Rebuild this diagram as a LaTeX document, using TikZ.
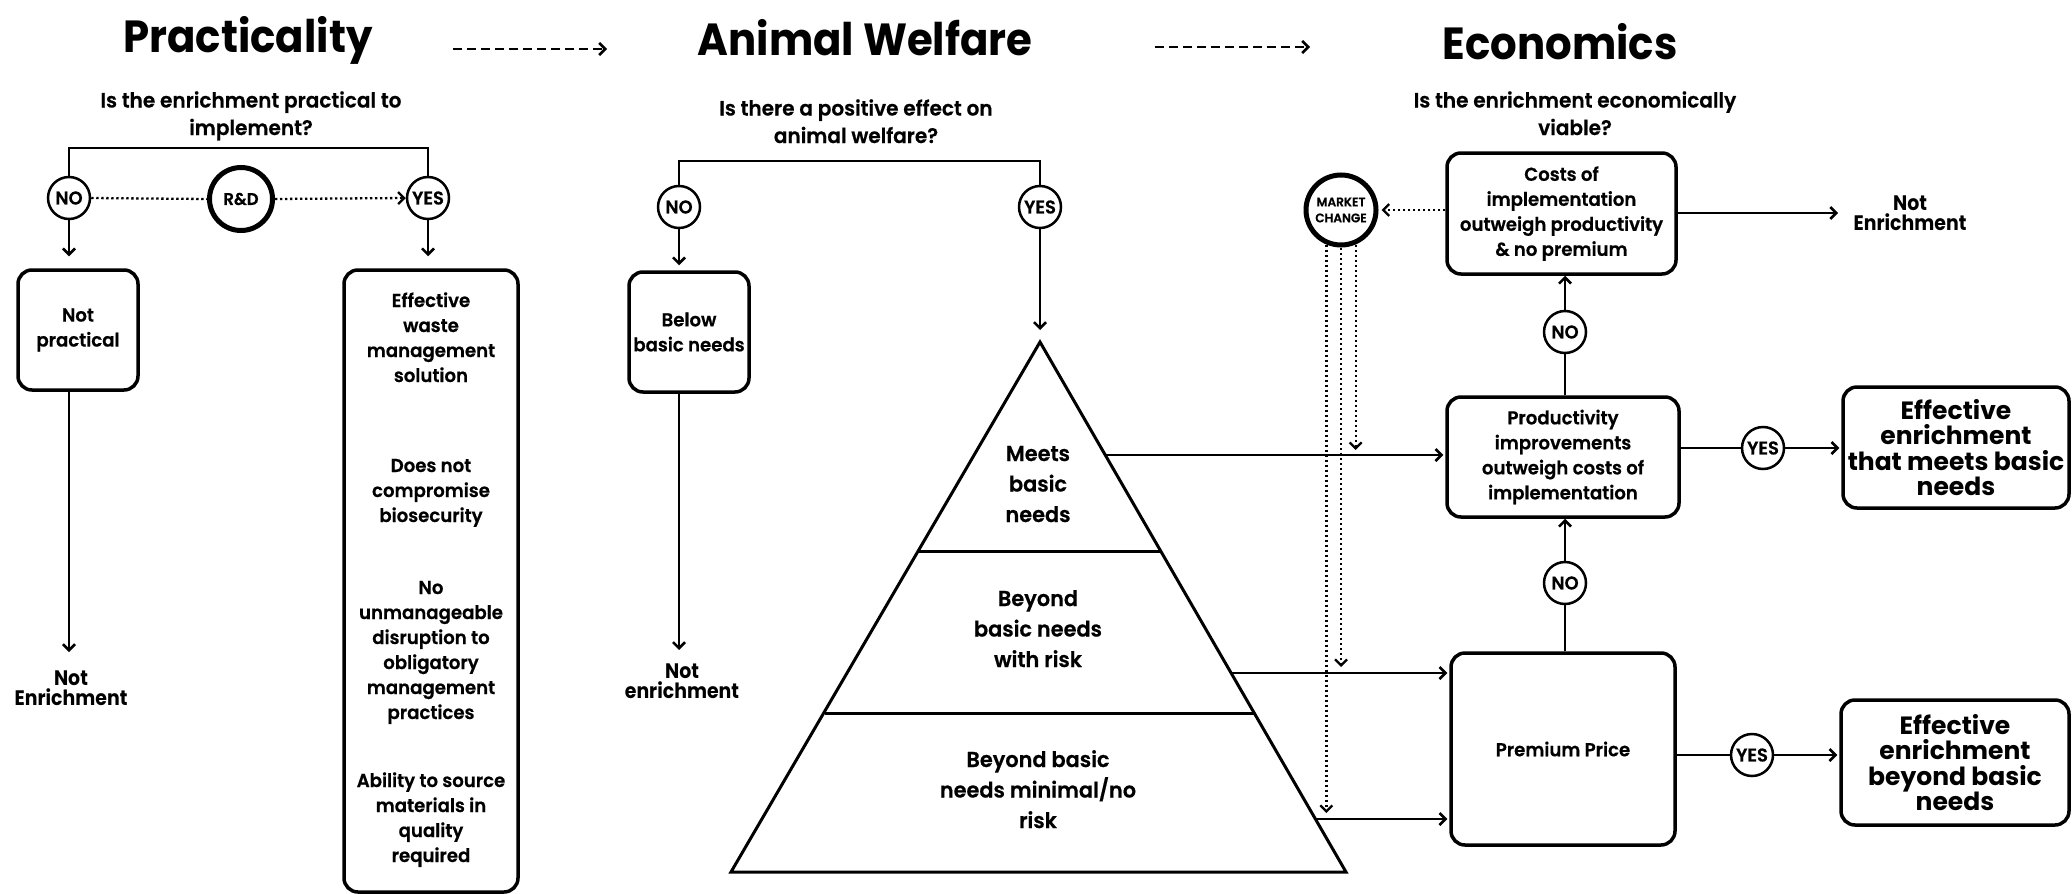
\documentclass[tikz,border=0pt]{standalone}
\usepackage{fontspec}
\setmainfont{Poppins}
\newfontfamily\bodyf{Poppins SemiBold}[FakeBold=0.6,FakeStretch=0.97]
\newfontfamily\heavyf{Poppins Bold}
\newfontfamily\heavyn{Poppins Bold}[FakeStretch=0.9]
\newfontfamily\titlef{Poppins Bold}[FakeStretch=0.93]
\usetikzlibrary{arrows.meta}
\begin{document}
\begin{tikzpicture}[x=1pt,y=-1pt,
  >={Straight Barb[length=6pt,width=12pt]},
  ln/.style={line width=2.5pt},
  arr/.style={line width=2.5pt,->},
  dots/.style={line width=2.3pt,dash pattern=on 2.3pt off 2.7pt},
  dotarr/.style={dots,->},
  dasharr/.style={line width=2.5pt,dash pattern=on 9pt off 5pt,->},
  rbox/.style={draw,line width=3.5pt,rounded corners=14pt,inner sep=0pt,align=center,font=\bodyf\fontsize{18.7}{25}\selectfont},
  effbox/.style={rbox,font=\heavyf\fontsize{25}{25.5}\selectfont},
  yn/.style={draw,circle,line width=2.5pt,minimum size=42pt,inner sep=0pt,font=\bodyf\fontsize{18.5}{18.5}\selectfont},
  bigc/.style={draw,circle,line width=5pt,inner sep=0pt,align=center},
  ttl/.style={inner sep=0pt,anchor=base,font=\titlef\fontsize{45}{45}\selectfont},
  qtext/.style={inner sep=0pt,anchor=base,align=center,font=\bodyf\fontsize{20.7}{27.5}\selectfont},
  bodytxt/.style={inner sep=0pt,anchor=base,align=center,font=\bodyf\fontsize{18.7}{25}\selectfont},
  pyr/.style={inner sep=0pt,anchor=base,align=center,font=\bodyf\fontsize{21.5}{30.5}\selectfont},
  notE/.style={inner sep=0pt,anchor=base,align=center,font=\heavyn\fontsize{21}{20}\selectfont},
  pyrline/.style={line width=3pt}
]
\useasboundingbox (0,0) rectangle (2072,894);

% titles
\node[ttl] (tP) at (248,52) {Practicality};
\node[ttl] (tA) at (865,55) {Animal Welfare};
\node[ttl] (tE) at (1560,59) {Economics};
\coordinate (d1s) at (453,49); \coordinate (d1e) at (607,49);
\coordinate (d2s) at (1155,47); \coordinate (d2e) at (1310,47);
\draw[dasharr] (d1s) -- (d1e);
\draw[dasharr] (d2s) -- (d2e);

% questions (anchor = baseline of the last line)
\node[qtext] (qP) at (251,135) {Is the enrichment practical to\\implement?};
\node[qtext] (qA) at (856,143) {Is there a positive effect on\\animal welfare?};
\node[qtext] (qE) at (1575,135) {Is the enrichment economically\\viable?};

% ---------- left: practicality
\node[yn] (noP) at (69,198) {NO};
\node[yn] (yesP) at (428,198) {YES};
\node[bigc,minimum size=63pt,font=\bodyf\fontsize{17}{17}\selectfont] (rd) at (241,199) {R\&D};
\coordinate (brP) at (248,148);
\draw[ln] (noP.north) |- (brP) -| (yesP.north);
\draw[dots] (noP.east) -- (rd.west);
\draw[dotarr] (rd.east) -- (yesP.west);

\node[rbox,minimum width=120pt,minimum height=120pt] (np) at (78,330) {Not\\practical};
\draw[arr,shorten >=12pt] (noP.south) -- (noP.south |- np.north);
\node[notE] (neP) at (71,705) {Not\\Enrichment};
\coordinate (nePin) at (69,652);
\draw[arr] (noP.south |- np.south) -- (nePin);

\node[rbox,minimum width=174pt,minimum height=622pt] (yb) at (431,581) {};
\draw[arr,shorten >=12pt] (yesP.south) -- (yesP.south |- yb.north);
\node[bodytxt] (c1) at (431,382) {Effective\\waste\\management\\solution};
\node[bodytxt] (c2) at (431,522) {Does not\\compromise\\biosecurity};
\node[bodytxt] (c3) at (431,719) {No\\unmanageable\\disruption to\\obligatory\\management\\practices};
\node[bodytxt] (c4) at (431,862) {Ability to source\\materials in\\quality\\required};

% ---------- middle: animal welfare
\node[yn] (noA) at (679,207) {NO};
\node[yn] (yesA) at (1040,207) {YES};
\coordinate (brA) at (860,161);
\draw[ln] (noA.north) |- (brA) -| (yesA.north);
\node[rbox,minimum width=120pt,minimum height=120pt] (bb) at (689,332) {Below\\basic needs};
\draw[arr,shorten >=5pt] (noA.south) -- (noA.south |- bb.north);
\node[notE] (neA) at (682,698) {Not\\enrichment};
\coordinate (neAin) at (679,650);
\draw[arr] (noA.south |- bb.south) -- (neAin);

\coordinate (apex) at (1040,342);
\coordinate (bl) at (731,872);
\coordinate (br) at (1346,872);
\draw[pyrline,line join=miter] (apex) -- (br) -- (bl) -- cycle;
\draw[pyrline] (919,551) -- (1161,551);
\draw[pyrline] (825,713) -- (1255,713);
\draw[arr,shorten >=12pt] (yesA.south) -- (apex);
\node[pyr] (m1) at (1038,522) {Meets\\basic\\needs};
\node[pyr] (m2) at (1038,667) {Beyond\\basic needs\\with risk};
\node[pyr] (m3) at (1038,828) {Beyond basic\\needs minimal/no\\risk};

% ---------- right: economics
\node[rbox,minimum width=229pt,minimum height=121pt] (costs) at (1561.5,213.5) {Costs of\\implementation\\outweigh productivity\\\& no premium};
\node[rbox,minimum width=232pt,minimum height=120pt] (prod) at (1563,457) {Productivity\\improvements\\outweigh costs of\\implementation};
\node[rbox,minimum width=224pt,minimum height=192pt] (prem) at (1563,749) {Premium Price};
\node[effbox,minimum width=226pt,minimum height=121pt] (eff1) at (1956,447.5) {Effective\\enrichment\\that meets basic\\needs};
\node[effbox,minimum width=228pt,minimum height=125pt] (eff2) at (1955,762.5) {Effective\\enrichment\\beyond basic\\needs};

\node[yn] (noE1) at (1565,332) {NO};
\node[yn] (noE2) at (1565,583) {NO};
\draw[ln] (prod.north -| noE1) -- (noE1.south);
\draw[arr] (noE1.north) -- (costs.south -| noE1);
\draw[ln] (prem.north -| noE2) -- (noE2.south);
\draw[arr] (noE2.north) -- (prod.south -| noE2);

\node[yn] (yesE1) at (1763,448) {YES};
\node[yn] (yesE2) at (1752,755) {YES};
\draw[ln] (prod.east |- yesE1) -- (yesE1.west);
\draw[arr,shorten >=2pt] (yesE1.east) -- (eff1.west |- yesE1);
\draw[ln] (prem.east |- yesE2) -- (yesE2.west);
\draw[arr,shorten >=2pt] (yesE2.east) -- (eff2.west |- yesE2);

\node[bigc,minimum size=70pt,font=\bodyf\fontsize{12.5}{16}\selectfont] (mc) at (1341,210) {MARKET\\CHANGE};
\draw[dotarr,shorten >=3pt] (mc.east -| costs.west) -- (mc.east);
\node[notE] (neE) at (1910,230) {Not\\Enrichment};
\coordinate (neEin) at (1838,213);
\draw[arr] (costs.east |- neEin) -- (neEin);

\coordinate (e1) at (1105,455);
\coordinate (e2) at (1231,673);
\coordinate (e3) at (1316,819);
\draw[arr,shorten >=2pt] (e1) -- (e1 -| prod.west);
\draw[arr,shorten >=2pt] (e2) -- (e2 -| prem.west);
\draw[arr,shorten >=2pt] (e3) -- (e3 -| prem.west);

\coordinate (t1) at (0,450);
\coordinate (t2) at (0,667);
\coordinate (t3) at (0,813);
\draw[dotarr] (mc.293) -- (mc.293 |- t1);
\draw[dotarr] (mc.south) -- (mc.south |- t2);
\draw[dotarr] (mc.247) -- (mc.247 |- t3);
\end{tikzpicture}
\end{document}
